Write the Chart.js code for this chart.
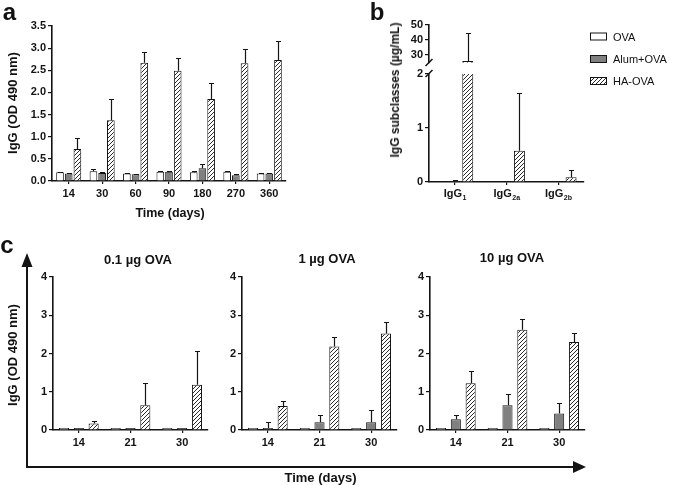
<!DOCTYPE html>
<html>
<head>
<meta charset="utf-8">
<script src="https://cdn.jsdelivr.net/npm/chart.js@4.4.1/dist/chart.umd.min.js"></script>
<style>
  html, body { margin: 0; padding: 0; background: #fff; }
  #page { position: relative; width: 685px; height: 485px; overflow: hidden;
          font-family: "Liberation Sans", Arial, sans-serif; color: #111; }
  #page canvas { position: absolute; }
</style>
</head>
<body>
<div id="page">
  <canvas id="deco" width="685" height="485" style="left:0;top:0"></canvas>
  <canvas id="chartA"></canvas>
  <canvas id="chartBTop"></canvas>
  <canvas id="chartBLow"></canvas>
  <canvas id="chartC1"></canvas>
  <canvas id="chartC2"></canvas>
  <canvas id="chartC3"></canvas>
</div>
<script>
// ----- data: panel a (IgG over time) -----
const aDays = ['14', '30', '60', '90', '180', '270', '360'];
const aYTicks = [0, 0.5, 1, 1.5, 2, 2.5, 3, 3.5];
const aOva     = [0.20, 0.22, 0.17, 0.21, 0.20, 0.21, 0.17];
const aOvaErr  = [0.01, 0.04, 0.01, 0.02, 0.02, 0.01, 0.01];
const aAlum    = [0.17, 0.18, 0.15, 0.21, 0.29, 0.13, 0.17];
const aAlumErr = [0.01, 0.02, 0.01, 0.02, 0.10, 0.02, 0.01];
const aHa      = [0.72, 1.37, 2.67, 2.49, 1.85, 2.66, 2.73];
const aHaErr   = [0.25, 0.49, 0.25, 0.29, 0.36, 0.31, 0.43];

// ----- data: panel b (IgG subclasses, broken axis) -----
const bClasses = ['IgG1', 'IgG2a', 'IgG2b'];
const bTopTicks = [30, 40, 50];
const bLowTicks = [0, 1, 2];
const bOva     = [0, 0, 0];
const bAlum    = [0.02, 0, 0];
const bAlumErr = [0.01, 0, 0];
const bHa      = [26, 0.58, 0.09];
const bHaErr   = [18.5, 1.06, 0.14];

// ----- data: panel c (dose, days) -----
const cDays = ['14', '21', '30'];
const cYTicks = [0, 1, 2, 3, 4];
const cDoses = ['0.1 µg OVA', '1 µg OVA', '10 µg OVA'];
const c1Ova = [0.05, 0.05, 0.05];
const c1Alum = [0.05, 0.05, 0.05];
const c1AlumErr = [0, 0, 0];
const c1Ha = [0.17, 0.65, 1.18];
const c1HaErr = [0.07, 0.58, 0.89];
const c2Ova = [0.05, 0.05, 0.05];
const c2Alum = [0.05, 0.20, 0.20];
const c2AlumErr = [0.17, 0.20, 0.33];
const c2Ha = [0.63, 2.18, 2.52];
const c2HaErr = [0.12, 0.25, 0.31];
const c3Ova = [0.05, 0.05, 0.05];
const c3Alum = [0.28, 0.65, 0.43];
const c3AlumErr = [0.10, 0.29, 0.27];
const c3Ha = [1.22, 2.62, 2.30];
const c3HaErr = [0.32, 0.28, 0.23];

const legendNames = ['OVA', 'Alum+OVA', 'HA-OVA'];

const FONT = '"Liberation Sans", Arial, sans-serif';
const INK = '#141414';
const GREY = '#808080';

Chart.defaults.font.family = FONT;
Chart.defaults.font.size = 11;
Chart.defaults.font.weight = 'bold';
Chart.defaults.color = INK;

// diagonal hatch fill  ////
function makeHatch() {
  const p = document.createElement('canvas');
  p.width = 4; p.height = 4;
  const g = p.getContext('2d');
  g.fillStyle = '#fff';
  g.fillRect(0, 0, 4, 4);
  g.strokeStyle = '#2a2a2a';
  g.lineWidth = 1;
  g.beginPath();
  g.moveTo(0, 4); g.lineTo(4, 0);
  g.moveTo(-1, 1); g.lineTo(1, -1);
  g.moveTo(3, 5); g.lineTo(5, 3);
  g.stroke();
  return g.createPattern(p, 'repeat');
}
const hatch = makeHatch();

// upper error bars only
const errorBars = {
  id: 'errorBars',
  afterDatasetsDraw(chart) {
    const ctx = chart.ctx, area = chart.chartArea, y = chart.scales.y;
    ctx.save();
    ctx.beginPath();
    ctx.rect(area.left - 10, area.top - 1, area.right - area.left + 20, area.bottom - area.top + 1);
    ctx.clip();
    ctx.strokeStyle = INK;
    ctx.lineWidth = 1.2;
    chart.data.datasets.forEach((ds, i) => {
      if (!ds.errors) return;
      chart.getDatasetMeta(i).data.forEach((bar, j) => {
        const e = ds.errors[j];
        if (!e) return;
        const v = ds.data[j];
        const x = Math.round(bar.x) + 0.5;
        const y0 = y.getPixelForValue(v);
        const y1 = Math.round(y.getPixelForValue(v + e)) + 0.5;
        ctx.beginPath();
        ctx.moveTo(x, y0); ctx.lineTo(x, y1);
        ctx.moveTo(x - 2.5, y1); ctx.lineTo(x + 2.5, y1);
        ctx.stroke();
      });
    });
    ctx.restore();
  }
};

// IgG labels with subscripts
const subLabels = {
  id: 'subLabels',
  afterDraw(chart, args, opts) {
    if (!opts.labels) return;
    const ctx = chart.ctx, x = chart.scales.x;
    const yb = chart.chartArea.bottom + opts.offset;
    ctx.save();
    ctx.fillStyle = INK;
    ctx.textBaseline = 'alphabetic';
    opts.labels.forEach((lab, i) => {
      const main = lab.slice(0, 3), sub = lab.slice(3);
      ctx.font = 'bold 11px ' + FONT;
      const w1 = ctx.measureText(main).width;
      ctx.font = 'bold 7px ' + FONT;
      const w2 = ctx.measureText(sub).width;
      const x0 = x.getPixelForValue(i) - (w1 + w2) / 2;
      ctx.font = 'bold 11px ' + FONT;
      ctx.fillText(main, x0, yb);
      ctx.font = 'bold 7px ' + FONT;
      ctx.fillText(sub, x0 + w1 + 0.5, yb + 3);
    });
    ctx.restore();
  }
};

function sets(ova, alum, ha, alumErr, haErr, ovaErr) {
  return [
    { label: legendNames[0], data: ova, errors: ovaErr, backgroundColor: '#fff' },
    { label: legendNames[1], data: alum, errors: alumErr, backgroundColor: GREY },
    { label: legendNames[2], data: ha, errors: haErr, backgroundColor: hatch }
  ].map(d => Object.assign(d, { borderColor: INK, borderWidth: 1, clip: 0 }));
}

// fix the plotting area to page coordinates
const YW = 40, XH = 26, PT = 12, PR = 8;
function mount(id, area, showX) {
  const c = document.getElementById(id);
  const pb = showX ? XH : 8;
  c.width = YW + (area.r - area.l) + PR;
  c.height = PT + (area.b - area.t) + pb;
  c.style.left = (area.l - YW) + 'px';
  c.style.top = (area.t - PT) + 'px';
  return c;
}

function barChart(id, area, o) {
  const showX = o.showX !== false;
  const el = mount(id, area, showX);
  return new Chart(el.getContext('2d'), {
    type: 'bar',
    data: { labels: o.labels, datasets: o.datasets },
    plugins: [errorBars, subLabels],
    options: {
      responsive: false,
      animation: false,
      events: [],
      layout: { padding: { top: PT, right: PR, left: 0, bottom: showX ? 0 : 8 } },
      datasets: { bar: { categoryPercentage: o.cat, barPercentage: o.bar } },
      plugins: {
        legend: { display: false },
        tooltip: { enabled: false },
        subLabels: { labels: o.subLabels, offset: 15 }
      },
      scales: {
        x: {
          display: showX,
          afterFit: s => { s.height = showX ? XH : 0; },
          border: { display: true, color: INK, width: 1.6 },
          grid: { offset: false, drawOnChartArea: false, drawTicks: true, tickLength: 3, color: INK, lineWidth: 1.2 },
          ticks: { display: !o.subLabels, padding: 3, font: { size: 11, weight: 'bold' } }
        },
        y: {
          min: o.min, max: o.max,
          afterFit: s => { s.width = YW; },
          afterBuildTicks: s => { s.ticks = o.ticks.map(v => ({ value: v })); },
          border: { display: true, color: INK, width: 1.6 },
          grid: { drawOnChartArea: false, drawTicks: true, tickLength: 4, color: INK, lineWidth: 1.2 },
          ticks: { padding: 2, autoSkip: false, callback: o.fmt || (v => String(v)) }
        }
      }
    }
  });
}

// ----- a -----
barChart('chartA', { l: 52, t: 26, r: 286, b: 181 }, {
  labels: aDays, cat: 0.78, bar: 0.88,
  datasets: sets(aOva, aAlum, aHa, aAlumErr, aHaErr, aOvaErr),
  min: 0, max: 3.5, ticks: aYTicks, fmt: v => v.toFixed(1)
});

// ----- b (two pieces of one broken axis) -----
barChart('chartBTop', { l: 429, t: 25, r: 584, b: 63 }, {
  labels: bClasses, cat: 0.75, bar: 0.85, showX: false,
  datasets: sets(bOva, bAlum, bHa, bAlumErr, bHaErr),
  min: 25, max: 50, ticks: bTopTicks
});
barChart('chartBLow', { l: 429, t: 74, r: 584, b: 182 }, {
  labels: bClasses, cat: 0.75, bar: 0.85, subLabels: bClasses,
  datasets: sets(bOva, bAlum, bHa, bAlumErr, bHaErr),
  min: 0, max: 2, ticks: bLowTicks
});

// ----- c -----
const cAreas = [
  { l: 53, t: 277, r: 208, b: 430 },
  { l: 242, t: 277, r: 397, b: 430 },
  { l: 430, t: 277, r: 585, b: 430 }
];
const cData = [
  [c1Ova, c1Alum, c1Ha, c1AlumErr, c1HaErr],
  [c2Ova, c2Alum, c2Ha, c2AlumErr, c2HaErr],
  [c3Ova, c3Alum, c3Ha, c3AlumErr, c3HaErr]
];
cData.forEach((d, i) => {
  barChart('chartC' + (i + 1), cAreas[i], {
    labels: cDays, cat: 0.86, bar: 0.68,
    datasets: sets(...d),
    min: 0, max: 4, ticks: cYTicks
  });
});

// ----- decorations: arrows in c, axis break in b, legend swatches -----
const dc = document.getElementById('deco').getContext('2d');
dc.strokeStyle = INK;
dc.fillStyle = INK;
dc.lineWidth = 2;
dc.beginPath();
dc.moveTo(27, 264); dc.lineTo(27, 467); dc.lineTo(574, 467);
dc.stroke();
dc.beginPath();
dc.moveTo(27, 253); dc.lineTo(21.5, 267); dc.lineTo(32.5, 267); dc.closePath();
dc.fill();
dc.beginPath();
dc.moveTo(586, 467); dc.lineTo(573, 461); dc.lineTo(573, 473); dc.closePath();
dc.fill();

dc.lineWidth = 1.5;
dc.beginPath();
dc.moveTo(425.5, 66); dc.lineTo(432.5, 59);
dc.moveTo(425.5, 77); dc.lineTo(432.5, 70);
dc.stroke();

[ '#fff', GREY, hatch ].forEach((f, i) => {
  const y = [32.5, 55, 77][i];
  dc.fillStyle = f;
  dc.fillRect(590, y, 17, 8);
  dc.lineWidth = 1;
  dc.strokeStyle = INK;
  dc.strokeRect(590.5, y + 0.5, 16, 7);
});

// ----- text -----
const page = document.getElementById('page');
function txt(s, x, y, size, opt) {
  opt = opt || {};
  const d = document.createElement('div');
  d.textContent = s;
  d.style.cssText = 'position:absolute;white-space:nowrap;line-height:1;' +
    'left:' + x + 'px;top:' + y + 'px;font-size:' + size + 'px;' +
    'font-weight:' + (opt.normal ? 'normal' : 'bold') + ';' +
    'transform:translate(' + (opt.left ? '0' : '-50%') + ',-50%)' + (opt.rot ? ' rotate(-90deg)' : '') + ';';
  page.appendChild(d);
}
txt('a', 9.5, 12, 24);
txt('b', 377, 11.8, 24);
txt('c', 7, 244.5, 24);
txt('IgG (OD 490 nm)', 12, 103, 13, { rot: true });
txt('Time (days)', 170, 212.5, 12.5);
txt('IgG subclasses (µg/mL)', 395, 90, 12, { rot: true });
legendNames.forEach((n, i) => txt(n, 613, [36.5, 59, 81][i], 11, { normal: true, left: true }));
txt('IgG (OD 490 nm)', 12, 355, 13, { rot: true });
txt('Time (days)', 320.5, 476.5, 13);
txt(cDoses[0], 138, 259, 13);
txt(cDoses[1], 327, 257.5, 13);
txt(cDoses[2], 512, 256.5, 13);
</script>
</body>
</html>
